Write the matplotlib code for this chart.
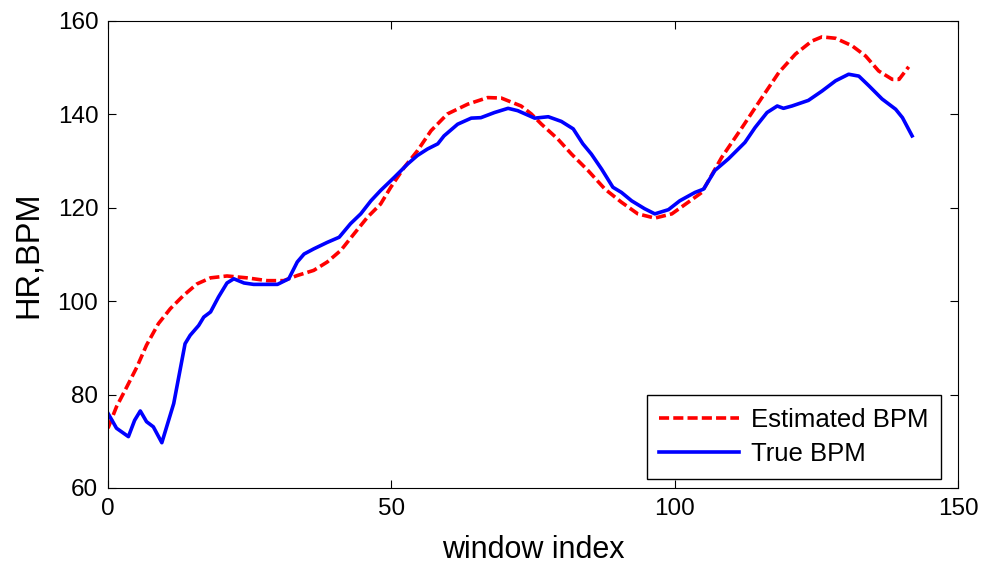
import matplotlib
matplotlib.use("Agg")
import matplotlib.pyplot as plt

plt.rcParams['font.family'] = ['Liberation Sans', 'DejaVu Sans']

# values
est_x = [0, 1.5, 3.3, 5.1, 6.8, 8.9, 11, 13.3, 15.7, 18.1, 21, 24.5, 28.1, 31, 33.4,
         36.3, 38.7, 41.1, 43.4, 45.8, 48.1, 49.9, 52.3, 54.6, 57, 59.9, 63.5, 67,
         69.4, 72.9, 74.7, 76.5, 79.4, 81.8, 84.7, 87.7, 90.6, 93.5, 96.5, 99.5,
         102.4, 104.8, 108.3, 111.9, 115.4, 118.4, 121.3, 124.2, 126, 128.4, 131.3,
         133.7, 136, 138.4, 139.6, 141.3]
est_bpm = [72.8, 77.4, 81.6, 85.9, 90.6, 95.2, 98.4, 101.2, 103.7, 105, 105.4, 105,
           104.4, 104.4, 105.5, 106.6, 108.4, 110.9, 114.4, 118, 120.8, 124.4, 128.7,
           132.2, 136.5, 140.1, 142.2, 143.6, 143.5, 141.8, 140.1, 137.9, 134.7, 131.5,
           128, 124, 121.2, 118.7, 117.8, 118.7, 121.2, 123.3, 130.8, 137.2, 143.6,
           149, 152.9, 155.7, 156.6, 156.3, 154.7, 152.5, 149.3, 147.5, 147.5, 150.2]

true_x = [0, 1.5, 3.6, 4.7, 5.7, 6.8, 8, 9.5, 11.6, 13.6, 14.5, 16, 16.9, 18.1, 19.5,
          21, 22.2, 24, 25.7, 29.9, 31.9, 33.4, 34.6, 36.3, 38.7, 40.8, 42.8, 44.6,
          46.4, 48.1, 50.5, 52.9, 54.6, 56.4, 58.2, 59.3, 61.7, 64.1, 65.8, 68.2,
          70.6, 72.3, 75.3, 77.7, 80, 82.1, 83.8, 85.3, 87.1, 89.1, 90.6, 92.4, 94.7,
          96.5, 98.9, 100.9, 103.6, 105.1, 107.1, 109.5, 112.4, 114.2, 116.3, 118.1,
          119.2, 120.7, 123.6, 126, 128.4, 130.7, 132.5, 134.3, 136.6, 139, 140.2,
          141.9]
true_bpm = [76.0, 72.8, 71.0, 74.5, 76.5, 74.2, 73.1, 69.7, 78.1, 90.9, 92.7, 94.8,
            96.6, 97.7, 100.9, 103.9, 104.8, 103.9, 103.6, 103.6, 104.8, 108.4, 110.1,
            111.2, 112.6, 113.7, 116.6, 118.7, 121.5, 123.7, 126.5, 129.4, 131.2,
            132.6, 133.7, 135.4, 137.9, 139.2, 139.3, 140.4, 141.3, 140.8, 139.2,
            139.5, 138.5, 136.9, 133.7, 131.5, 128.3, 124.4, 123.3, 121.5, 119.8,
            118.7, 119.6, 121.5, 123.3, 124.0, 128.0, 130.5, 134.0, 137.2, 140.4,
            141.8, 141.3, 141.8, 143.0, 145.0, 147.2, 148.6, 148.2, 146.1, 143.3,
            141.1, 139.3, 135.4]

fig = plt.figure(figsize=(9.85, 5.67), dpi=100)
ax = fig.add_axes([108 / 985, 1 - 488 / 567, 850 / 985, 467 / 567])

ax.plot(est_x, est_bpm, color='red', lw=2.6, dashes=[2.8, 1.15], label='Estimated BPM')
ax.plot(true_x, true_bpm, color='blue', lw=2.6, label='True BPM')

ax.set_xlim(0, 150)
ax.set_ylim(60, 160)
ax.set_xticks([0, 50, 100, 150])
ax.set_yticks([60, 80, 100, 120, 140, 160])
ax.tick_params(direction='in', top=True, right=True, labelsize=17.5, length=6, pad=7)
ax.set_xlabel('window index', fontsize=22, labelpad=11)
ax.set_ylabel('HR,BPM', fontsize=23.5, labelpad=10)

leg = ax.legend(loc='lower right', bbox_to_anchor=(941 / 985, 1 - 479 / 567),
                bbox_transform=fig.transFigure, borderaxespad=0, fontsize=18.5,
                fancybox=False, edgecolor='black', framealpha=1, handlelength=3.1,
                handletextpad=0.45, labelspacing=0.4, borderpad=0.5)
leg.get_frame().set_linewidth(1.0)

fig.savefig('out.png', dpi=100)
